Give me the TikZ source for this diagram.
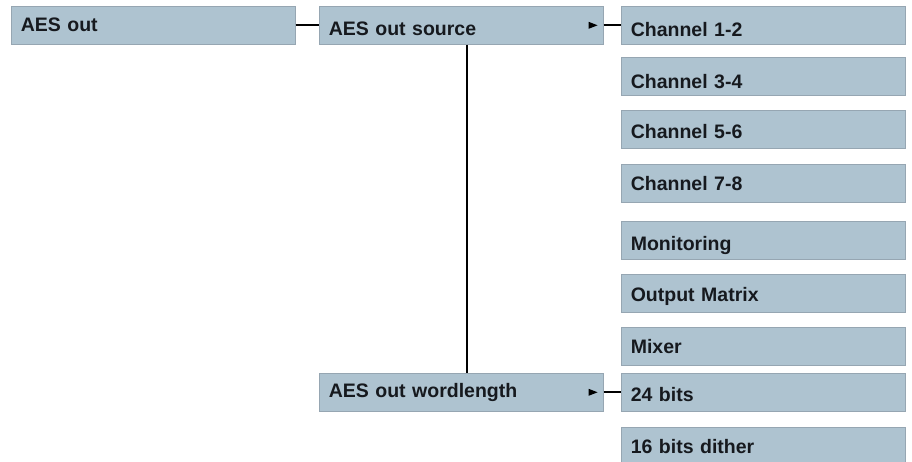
\documentclass[tikz,border=0pt]{standalone}
\usepackage{fontspec}
\setmainfont{Liberation Sans}
\definecolor{menublue}{RGB}{174,195,208}
\definecolor{menuedge}{RGB}{150,166,178}
\definecolor{menutext}{RGB}{22,25,30}
\begin{document}
\begin{tikzpicture}[x=1pt,y=-1pt,
    item/.style={draw=menuedge, line width=0.6pt, fill=menublue, anchor=north west,
      text width=265pt, align=left, inner xsep=9.5pt, inner ysep=0pt,
      text height=30pt, text depth=8pt, text=menutext,
      font=\fontsize{19.5}{20}\selectfont\bfseries},
    link/.style={line width=2.3pt, black}]
  \clip (0,0) rectangle (912,462);
  \fill[white] (0,0) rectangle (912,462);
  \node[item, text height=25pt, text depth=13pt] (out) at (11,6) {AES out};
  \node[item, text height=29pt, text depth=9pt] (src) at (319,6) {AES out source};
  \node[item, text height=24pt, text depth=14pt] (wl) at (319,373) {AES out wordlength};
  % sub menu items
  \foreach \name/\top/\dep/\txt [evaluate=\dep as \hgt using 38-\dep] in {
      ch12/6/8/Channel 1-2, ch34/57/7/Channel 3-4,
      ch56/110/10/Channel 5-6, ch78/164/12/Channel 7-8, mon/221/9/Monitoring,
      mtx/274/11/Output Matrix, mix/327/12/Mixer, b24/373/10/24 bits,
      b16/427/12/16 bits dither}
    \node[item, text height=\hgt pt, text depth=\dep pt] (\name) at (621,\top) {\txt};
  \fill (src.east) ++(-15,-3.5) -- ++(9,3.5) -- ++(-9,3.5) -- cycle;
  \fill (wl.east) ++(-15,-3.5) -- ++(9,3.5) -- ++(-9,3.5) -- cycle;
  \draw[link] (out.east) -- (src.west);
  \draw[link] (src.east) -- (ch12.west);
  \draw[link] ([xshift=6pt]src.south) -- ([xshift=6pt]wl.north);
  \draw[link] (wl.east) -- (b24.west);
\end{tikzpicture}
\end{document}
